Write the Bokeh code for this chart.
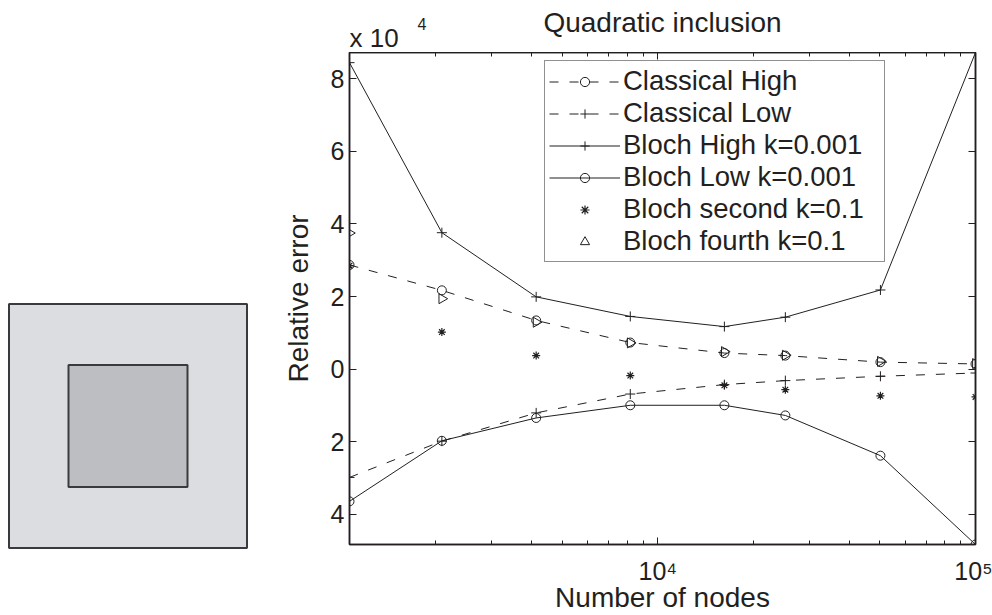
from bokeh.plotting import figure
from bokeh.layouts import row, column
from bokeh.models import (Range1d, LogAxis, LinearAxis, FixedTicker, BasicTickFormatter,
                          Legend, LegendItem)
from bokeh.core.properties import value
from bokeh.embed import file_html
from bokeh.resources import INLINE

# ---------------- data (relative error in units of 1e-4) ----------------
nodes = [1070, 2090, 4140, 8190, 16200, 25200, 50200, 100000]
classical_high = [2.87, 2.17, 1.34, 0.73, 0.44, 0.37, 0.19, 0.14]
classical_low = [-2.99, -1.99, -1.21, -0.69, -0.43, -0.32, -0.20, -0.11]
bloch_high = [8.45, 3.76, 1.99, 1.45, 1.17, 1.43, 2.18, 8.73]
bloch_low = [-3.65, -1.98, -1.35, -1.00, -1.00, -1.28, -2.39, -4.84]
bloch_second = [2.85, 1.02, 0.37, -0.18, -0.45, -0.57, -0.74, -0.77]
bloch_fourth = [3.75, 1.94, 1.29, 0.72, 0.48, 0.38, 0.21, 0.15]

ytick_values = [-4, -2, 0, 2, 4, 6, 8]
ytick_labels = ["4", "2", "0", "2", "4", "6", "8"]   # as printed in the figure
xtick_values = [10000, 100000]
xtick_labels = ["10\u2074", "10\u2075"]
x_decades = [1000, 10000]            # decades holding the log minor ticks
y_multiplier_base = "x 10"
y_multiplier_exp = "4"
title_text = "Quadratic inclusion"

# geometry of the inclusion sketch (unit cell and inclusion)
outer_square = [0.0, 1.0]
inclusion_square = [0.25, 0.75]

FONT = "Liberation Sans"
INK = "#231f20"

# ---------------- left panel : unit cell with square inclusion ----------------
W1, H = 263, 615
cell_px_left, cell_px_right = 8.5, 246.5
cell_px_top, cell_px_bottom = 303.5, 547.5
sx = (cell_px_right - cell_px_left) / (outer_square[1] - outer_square[0])
sy = (cell_px_bottom - cell_px_top) / (outer_square[1] - outer_square[0])
sq_x = Range1d(outer_square[0] - cell_px_left / sx, outer_square[1] + (W1 - cell_px_right) / sx)
sq_y = Range1d(outer_square[0] - (H - cell_px_bottom) / sy, outer_square[1] + cell_px_top / sy)

sq = figure(width=W1, height=H, x_range=sq_x, y_range=sq_y, output_backend="svg",
            toolbar_location=None, x_axis_location=None, y_axis_location=None,
            min_border=0)
sq.grid.visible = False
sq.outline_line_color = None
sq.quad(left=[outer_square[0]], right=[outer_square[1]],
        bottom=[outer_square[0]], top=[outer_square[1]],
        fill_color="#dcdde0", line_color="#3a3a3c", line_width=2)
sq.quad(left=[inclusion_square[0]], right=[inclusion_square[1]],
        bottom=[inclusion_square[0]], top=[inclusion_square[1]],
        fill_color="#bdbec2", line_color="#3a3a3c", line_width=2)

# ---------------- right panel : convergence plot ----------------
W2 = 992 - W1
HDR_H = 52
BORDER_L, BORDER_R = 86, 17
all_vals = classical_high + classical_low + bloch_high + bloch_low + bloch_second + bloch_fourth
ymin, ymax = min(all_vals), max(all_vals)
x_range = Range1d(min(nodes), max(nodes))

minor_x = [m * d for d in x_decades for m in range(2, 10)]

# header strip: title and the exponent multiplier of the y axis
hdr = figure(width=W2, height=HDR_H, x_axis_type="log", x_range=x_range,
             y_range=Range1d(0, HDR_H), output_backend="svg", toolbar_location=None,
             x_axis_location=None, y_axis_location=None,
             min_border_left=BORDER_L, min_border_right=BORDER_R,
             min_border_top=0, min_border_bottom=0)
hdr.grid.visible = False
hdr.outline_line_color = None
x_center = (min(nodes) * max(nodes)) ** 0.5
hdr.text(x=[x_center], y=[30.5], text=[title_text], text_align="center",
         text_baseline="middle", text_font=value(FONT), text_font_size="28px",
         text_color=INK)
hdr.text(x=[min(nodes)], y=[15], text=[y_multiplier_base], text_align="left",
         text_baseline="middle", text_font=value(FONT), text_font_size="26px",
         text_color=INK)
hdr.text(x=[min(nodes)], y=[29], x_offset=68, text=[y_multiplier_exp], text_align="left",
         text_baseline="middle", text_font=value(FONT), text_font_size="16px",
         text_color=INK)

p = figure(width=W2, height=H - HDR_H, x_axis_type="log",
           x_range=x_range, y_range=Range1d(ymin, ymax),
           output_backend="svg", toolbar_location=None,
           min_border_left=BORDER_L, min_border_right=BORDER_R,
           min_border_top=0, min_border_bottom=70)
p.grid.visible = False
p.outline_line_color = INK
p.outline_line_width = 1.5

xax = p.xaxis[0]
xax.ticker = FixedTicker(ticks=xtick_values, minor_ticks=minor_x)
xax.formatter = BasicTickFormatter()
xax.major_label_overrides = dict(zip(xtick_values, xtick_labels))
xax.major_label_text_font = FONT
xax.major_label_text_font_size = "25px"
xax.major_label_text_color = INK
xax.major_label_standoff = 12
xax.major_tick_in = 7
xax.major_tick_out = 0
xax.minor_tick_in = 4
xax.minor_tick_out = 0
xax.axis_line_color = INK
xax.axis_line_width = 1.5
xax.major_tick_line_color = INK
xax.minor_tick_line_color = INK
xax.axis_label = "Number of nodes"
xax.axis_label_text_font = FONT
xax.axis_label_text_font_size = "28px"
xax.axis_label_text_font_style = "normal"
xax.axis_label_text_color = INK
xax.axis_label_standoff = -6

yax = p.yaxis[0]
yax.ticker = FixedTicker(ticks=ytick_values)
yax.major_label_overrides = dict(zip(ytick_values, ytick_labels))
yax.major_label_text_font = FONT
yax.major_label_text_font_size = "25px"
yax.major_label_text_color = INK
yax.major_label_standoff = 5
yax.major_tick_in = 7
yax.major_tick_out = 0
yax.minor_tick_line_color = None
yax.axis_line_color = INK
yax.axis_line_width = 1.5
yax.major_tick_line_color = INK
yax.axis_label = "Relative error"
yax.axis_label_text_font = FONT
yax.axis_label_text_font_size = "28px"
yax.axis_label_text_font_style = "normal"
yax.axis_label_text_color = INK
yax.axis_label_standoff = 14

tax = LogAxis(ticker=FixedTicker(ticks=xtick_values, minor_ticks=minor_x),
              formatter=BasicTickFormatter(),
              major_label_text_font_size="0px", major_label_text_color=None,
              major_label_standoff=0,
              major_tick_in=7, major_tick_out=0, minor_tick_in=4, minor_tick_out=0,
              axis_line_color=INK, axis_line_width=1.5,
              major_tick_line_color=INK, minor_tick_line_color=INK)
p.add_layout(tax, "above")
rax = LinearAxis(ticker=FixedTicker(ticks=ytick_values),
                 major_label_text_font_size="0px", major_label_text_color=None,
                 major_label_standoff=0,
                 major_tick_in=7, major_tick_out=0, minor_tick_line_color=None,
                 axis_line_color=INK, axis_line_width=1.5, major_tick_line_color=INK)
p.add_layout(rax, "right")

DASH = "9 11"
l_ch = p.line(nodes, classical_high, line_color=INK, line_width=1, line_dash=DASH)
m_ch = p.scatter(nodes, classical_high, marker="circle", size=9, fill_color=None, line_color=INK)
l_cl = p.line(nodes, classical_low, line_color=INK, line_width=1, line_dash=DASH)
m_cl = p.scatter(nodes, classical_low, marker="cross", size=10, line_color=INK)
l_bh = p.line(nodes, bloch_high, line_color=INK, line_width=1)
m_bh = p.scatter(nodes, bloch_high, marker="cross", size=10, line_color=INK)
l_bl = p.line(nodes, bloch_low, line_color=INK, line_width=1)
m_bl = p.scatter(nodes, bloch_low, marker="circle", size=9, fill_color=None, line_color=INK)
m_b2 = p.scatter(nodes, bloch_second, marker="asterisk", size=8, line_color=INK, line_width=1.2)
m_b4 = p.scatter(nodes, bloch_fourth, marker="triangle", size=10, angle=-1.5708,
                 fill_color=None, line_color=INK)

legend = Legend(items=[
    LegendItem(label="Classical High", renderers=[l_ch, m_ch]),
    LegendItem(label="Classical Low", renderers=[l_cl, m_cl]),
    LegendItem(label="Bloch High k=0.001", renderers=[l_bh, m_bh]),
    LegendItem(label="Bloch Low k=0.001", renderers=[l_bl, m_bl]),
    LegendItem(label="Bloch second k=0.1", renderers=[m_b2]),
    LegendItem(label="Bloch fourth k=0.1", renderers=[m_b4]),
], location=(195, 282), padding=4, spacing=0, margin=0,
   glyph_width=71, glyph_height=23, label_height=32, label_width=257, label_standoff=3,
   label_text_font=FONT, label_text_font_size="27.5px", label_text_color=INK,
   border_line_color=INK, border_line_width=1, background_fill_color="white",
   background_fill_alpha=1)
p.add_layout(legend, "center")

layout = row(sq, column(hdr, p))
open("out.html", "w").write(file_html(layout, INLINE))
